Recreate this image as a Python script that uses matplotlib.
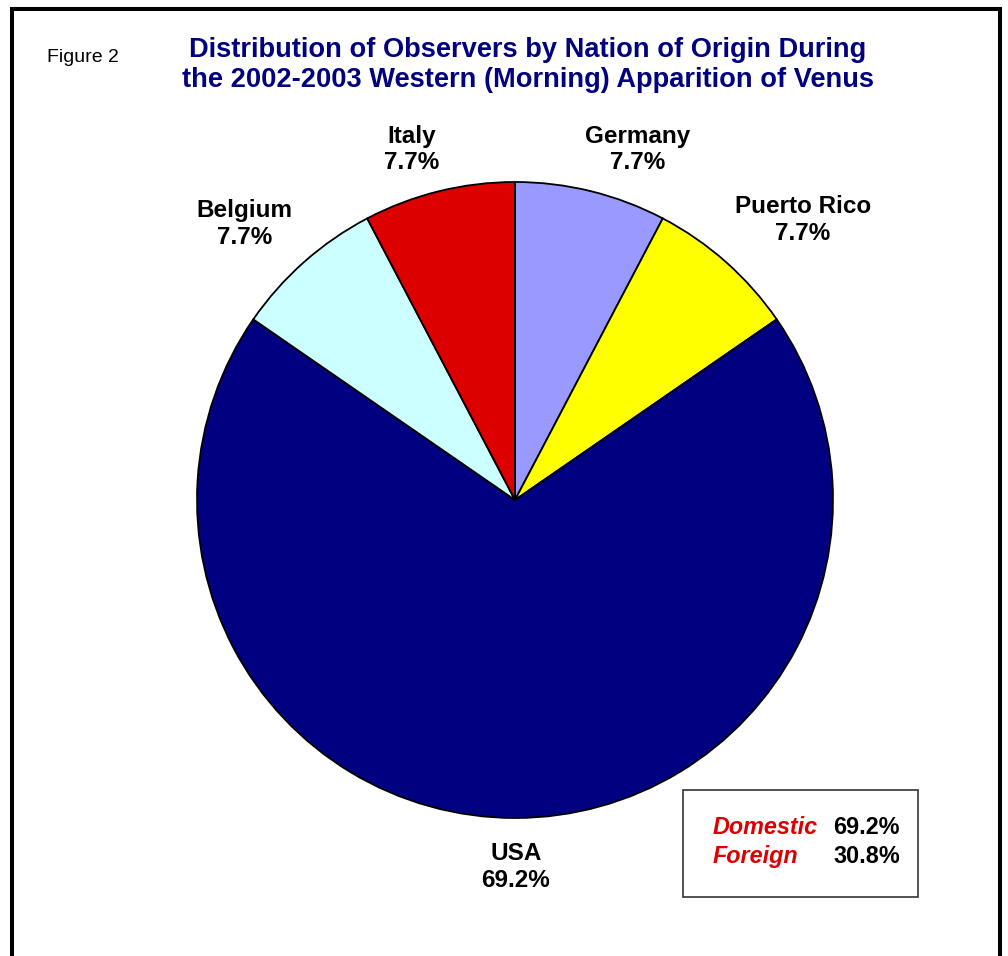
import matplotlib
matplotlib.use("Agg")
import matplotlib.pyplot as plt
from matplotlib.patches import Rectangle
from matplotlib.lines import Line2D

plt.rcParams['font.family'] = ['Liberation Sans', 'DejaVu Sans']

# ---- data ----
countries = ["Germany", "Puerto Rico", "USA", "Belgium", "Italy"]
observers = [1, 1, 9, 1, 1]
slice_colors = ["#9999FF", "#FFFF00", "#000080", "#CCFFFF", "#DD0000"]
summary_labels = ["Domestic", "Foreign"]
summary_values = [69.2, 30.8]
title_lines = ["Distribution of Observers by Nation of Origin During",
               "the 2002-2003 Western (Morning) Apparition of Venus"]

# label positions (in units of pie radius, relative to pie centre)
label_pos = {"Germany": (0.385, 1.102), "Puerto Rico": (0.906, 0.881),
             "USA": (0.003, -1.155), "Belgium": (-0.851, 0.868),
             "Italy": (-0.324, 1.102)}

W, H = 1008, 956
fig = plt.figure(figsize=(W / 100, H / 100), dpi=100)
fig.patch.set_facecolor("white")

# frame (thick black border, bottom beyond image)
for (x0, y0, x1, y1) in [(12, 9, 1000, 9), (12, 9, 12, 970), (1000, 9, 1000, 970)]:
    fig.add_artist(Line2D([x0 / W, x1 / W], [1 - y0 / H, 1 - y1 / H],
                          color="black", lw=2.9, transform=fig.transFigure,
                          solid_capstyle="projecting"))

ax = fig.add_axes([0, 0, 1, 1])
cx, cy, R = 515, 500, 318
total = sum(observers)
ax.pie(observers, colors=slice_colors, startangle=90, counterclock=False,
       radius=1, wedgeprops=dict(edgecolor="black", linewidth=1.3))
ax.set_aspect("auto")
ax.set_xlim(-cx / R, (W - cx) / R)
ax.set_ylim(-(H - cy) / R, cy / R)
ax.axis("off")

for name, v in zip(countries, observers):
    x, y = label_pos[name]
    ax.text(x, y, f"{name}\n{v / total * 100:.1f}%", ha="center", va="center",
            fontsize=17.5, fontweight="bold", linespacing=1.2, color="black")

# title
fig.text(528 / W, 1 - 50 / H, title_lines[0], ha="center", va="center",
         fontsize=19.6, fontweight="bold", color="#000080")
fig.text(528 / W, 1 - 80 / H, title_lines[1], ha="center", va="center",
         fontsize=19.6, fontweight="bold", color="#000080")
fig.text(47 / W, 1 - 57 / H, "Figure 2", ha="left", va="center",
         fontsize=14, color="black")

# summary box
fig.add_artist(Rectangle((683 / W, 1 - 897 / H), (918 - 683) / W, (897 - 790) / H,
                         transform=fig.transFigure, fill=False,
                         edgecolor="#333333", lw=1.2))
for i, (lab, val) in enumerate(zip(summary_labels, summary_values)):
    yb = 1 - (834 + 29 * i) / H
    fig.text(713 / W, yb, lab, ha="left", va="baseline", fontsize=16.8,
             fontweight="bold", fontstyle="italic", color="#DD0000")
    fig.text(900 / W, yb, f"{val:.1f}%", ha="right", va="baseline", fontsize=16.8,
             fontweight="bold", color="black")

fig.savefig("out.png", dpi=100, facecolor="white")
